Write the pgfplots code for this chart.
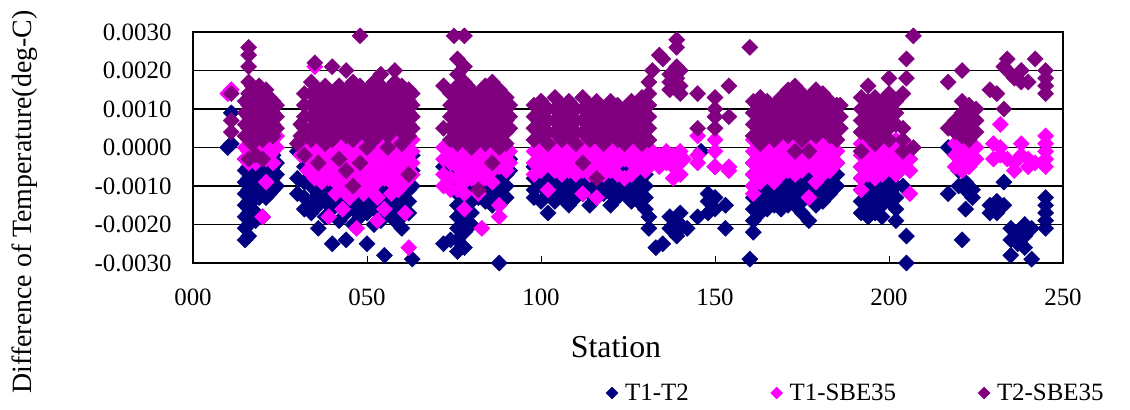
\documentclass[border=0pt]{standalone}
\usepackage{pgfplots}
\pgfplotsset{compat=1.18}
\usepackage{fontspec}
\setmainfont{Liberation Serif}
\definecolor{cnavy}{RGB}{0,0,128}
\definecolor{cmag}{RGB}{255,0,255}
\definecolor{cpur}{RGB}{128,0,128}
\begin{document}
\begin{tikzpicture}[x=1bp,y=1bp]
\path[use as bounding box] (0,0) rectangle (1130,409);
\begin{axis}[
  at={(193bp,146bp)}, anchor=south west,
  scale only axis, width=870bp, height=231bp,
  xmin=0, xmax=250, ymin=-0.003, ymax=0.003,
  clip=false,
  axis line style={black, line width=2.5bp},
  xtick={0,50,100,150,200,250}, xticklabels={000,050,100,150,200,250},
  ytick={-0.003,-0.002,-0.001,0,0.001,0.002,0.003},
  yticklabels={-0.0030,-0.0020,-0.0010,0.0000,0.0010,0.0020,0.0030},
  scaled y ticks=false,
  ymajorgrids, major grid style={black, line width=1.1bp},
  tick align=inside, tick pos=left, major tick length=7bp,
  xtick style={black, line width=1bp},
  ytick style={draw=none},
  ticklabel style={font=\fontsize{25}{30}\selectfont},
  yticklabel style={xshift=-18bp},
  xticklabel style={yshift=-22bp},
  legend columns=3,
  legend style={at={(0.4713,-0.5628)}, anchor=west, draw=none, fill=none,
    font=\fontsize{25}{30}\selectfont,
    /tikz/every odd column/.append style={column sep=5bp},
    /tikz/every even column/.append style={column sep=80bp}},
  legend image code/.code={\draw[mark repeat=2,mark phase=2,#1,mark size=4.2bp] plot coordinates {(0bp,0bp)(6bp,0bp)(12bp,0bp)};},
  every axis plot/.append style={only marks, mark=square*, mark size=5.7bp, mark options={rotate=45}},
]
% T1-T2
\addplot[color=cnavy] coordinates {
(10,0)(11,0.0009)(11,0.0001)
(15,-0.0003)(15,-0.0006)(15,-0.0009)(15,-0.0012)(15,-0.0015)(15,-0.0018)(15,-0.0021)(15,-0.0024)
(16,-0.0005)(16,-0.0008)(16,-0.0011)(16,-0.0014)(16,-0.0017)(16,-0.0020)(16,-0.0023)
(17,-0.0002)(17,-0.0005)(17,-0.0008)(17,-0.0011)(17,-0.0014)(17,-0.0016)
(18,-0.0004)(18,-0.0007)(18,-0.0010)(18,-0.0013)(18,-0.0017)(18,-0.0019)
(19,-0.0001)(19,-0.0004)(19,-0.0007)(19,-0.0010)(19,-0.0013)
(20,-0.0003)(20,-0.0006)(20,-0.0009)(20,-0.0012)(20,-0.0018)
(21,-0.0001)(21,-0.0004)(21,-0.0007)(21,-0.0010)(21,-0.0013)
(22,-0.0003)(22,-0.0006)(22,-0.0009)(22,-0.0012)
(23,-0.0002)(23,-0.0005)(23,-0.0008)(23,-0.0011)
(24,-0.0004)(24,-0.0007)(24,-0.0010)
(30,-0.0001)(30,-0.0008)(30,-0.0012)
(32,-0.0005)(32,-0.0009)(32,-0.0013)(32,-0.0016)
(34,-0.0004)(34,-0.0007)(34,-0.0010)(34,-0.0014)(34,-0.0017)
(36,-0.0003)(36,-0.0006)(36,-0.0009)(36,-0.0012)(36,-0.0015)(36,-0.0021)
(38,-0.0005)(38,-0.0008)(38,-0.0011)(38,-0.0014)(38,-0.0018)
(40,-0.0004)(40,-0.0007)(40,-0.0010)(40,-0.0013)(40,-0.0016)(40,-0.0025)
(42,-0.0003)(42,-0.0006)(42,-0.0009)(42,-0.0012)(42,-0.0015)(42,-0.0019)
(44,-0.0005)(44,-0.0008)(44,-0.0011)(44,-0.0014)(44,-0.0017)(44,-0.0024)
(46,-0.0004)(46,-0.0007)(46,-0.0010)(46,-0.0013)(46,-0.0016)(46,-0.0020)
(48,-0.0003)(48,-0.0006)(48,-0.0009)(48,-0.0012)(48,-0.0015)(48,-0.0018)
(50,-0.0005)(50,-0.0008)(50,-0.0011)(50,-0.0014)(50,-0.0017)(50,-0.0025)
(52,-0.0004)(52,-0.0007)(52,-0.0010)(52,-0.0013)(52,-0.0016)(52,-0.0020)
(54,-0.0003)(54,-0.0006)(54,-0.0009)(54,-0.0012)(54,-0.0015)(54,-0.0019)
(55,-0.0028)
(56,-0.0005)(56,-0.0008)(56,-0.0011)(56,-0.0014)(56,-0.0017)
(58,-0.0004)(58,-0.0007)(58,-0.0010)(58,-0.0013)(58,-0.0016)(58,-0.0019)
(60,-0.0003)(60,-0.0006)(60,-0.0009)(60,-0.0012)(60,-0.0015)(60,-0.0018)(60,-0.0021)
(62,-0.0005)(62,-0.0008)(62,-0.0011)(62,-0.0014)(62,-0.0017)
(63,-0.0002)(63,-0.0006)(63,-0.0010)(63,-0.0029)
(72,-0.0005)(72,-0.0025)
(74,-0.0006)(74,-0.0009)(74,-0.0024)
(76,-0.0006)(76,-0.0009)(76,-0.0012)(76,-0.0015)(76,-0.0018)(76,-0.0021)(76,-0.0024)(76,-0.0027)
(78,-0.0007)(78,-0.0010)(78,-0.0013)(78,-0.0016)(78,-0.0019)(78,-0.0022)(78,-0.0026)
(80,-0.0005)(80,-0.0008)(80,-0.0011)(80,-0.0014)(80,-0.0017)(80,-0.0020)
(82,-0.0004)(82,-0.0007)(82,-0.0010)(82,-0.0013)
(84,-0.0005)(84,-0.0008)(84,-0.0011)(84,-0.0014)
(86,-0.0004)(86,-0.0007)(86,-0.0010)(86,-0.0013)(86,-0.0015)
(88,-0.0005)(88,-0.0008)(88,-0.0011)(88,-0.0030)
(90,-0.0004)(90,-0.0007)(90,-0.0010)(90,-0.0013)
(91,-0.0003)(91,-0.0006)
(98,-0.0005)(98,-0.0008)(98,-0.0011)(98,-0.0013)
(100,-0.0004)(100,-0.0007)(100,-0.0010)(100,-0.0014)
(102,-0.0006)(102,-0.0009)(102,-0.0012)(102,-0.0017)
(104,-0.0005)(104,-0.0008)(104,-0.0011)(104,-0.0014)
(106,-0.0004)(106,-0.0007)(106,-0.0010)(106,-0.0013)
(108,-0.0006)(108,-0.0009)(108,-0.0012)(108,-0.0015)
(110,-0.0005)(110,-0.0008)(110,-0.0011)(110,-0.0013)
(112,-0.0004)(112,-0.0007)(112,-0.0010)(112,-0.0012)
(114,-0.0006)(114,-0.0009)(114,-0.0012)(114,-0.0015)
(116,-0.0005)(116,-0.0008)(116,-0.0011)(116,-0.0013)
(118,-0.0004)(118,-0.0007)(118,-0.0010)(118,-0.0012)
(120,-0.0003)(120,-0.0006)(120,-0.0009)(120,-0.0012)(120,-0.0015)
(122,-0.0005)(122,-0.0008)(122,-0.0011)(122,-0.0013)
(124,-0.0004)(124,-0.0007)(124,-0.0010)(124,-0.0012)
(126,-0.0003)(126,-0.0006)(126,-0.0009)(126,-0.0012)(126,-0.0014)
(128,-0.0005)(128,-0.0008)(128,-0.0011)(128,-0.0014)
(130,-0.0007)(130,-0.0010)(130,-0.0013)(130,-0.0016)
(131,-0.0018)(131,-0.0021)
(133,-0.0026)(135,-0.0025)
(137,-0.0018)(137,-0.0021)
(139,-0.0019)(139,-0.0022)(139,-0.0023)
(140,-0.0017)(140,-0.0020)
(142,-0.0021)
(145,-0.0018)(146,-0.0001)
(148,-0.0012)(148,-0.0014)(148,-0.0017)
(150,-0.0005)(150,-0.0013)(150,-0.0016)
(153,-0.0015)(153,-0.0021)
(160,-0.0029)
(161,-0.0004)(161,-0.0007)(161,-0.0010)(161,-0.0013)(161,-0.0016)(161,-0.0019)(161,-0.0022)
(163,-0.0005)(163,-0.0008)(163,-0.0011)(163,-0.0014)(163,-0.0017)
(165,-0.0004)(165,-0.0007)(165,-0.0010)(165,-0.0013)(165,-0.0016)
(167,-0.0006)(167,-0.0009)(167,-0.0012)(167,-0.0015)
(169,-0.0005)(169,-0.0008)(169,-0.0011)(169,-0.0014)(169,-0.0016)
(171,-0.0004)(171,-0.0007)(171,-0.0010)(171,-0.0013)(171,-0.0015)
(173,-0.0006)(173,-0.0009)(173,-0.0012)(173,-0.0015)
(175,-0.0005)(175,-0.0008)(175,-0.0011)(175,-0.0014)(175,-0.0017)
(177,-0.0004)(177,-0.0007)(177,-0.0010)(177,-0.0013)(177,-0.0019)
(179,-0.0006)(179,-0.0009)(179,-0.0012)(179,-0.0015)
(181,-0.0005)(181,-0.0008)(181,-0.0011)(181,-0.0014)
(183,-0.0003)(183,-0.0006)(183,-0.0009)(183,-0.0012)
(185,-0.0004)(185,-0.0007)(185,-0.0010)
(192,-0.0005)(192,-0.0008)(192,-0.0011)(192,-0.0014)(192,-0.0017)
(194,-0.0006)(194,-0.0009)(194,-0.0012)(194,-0.0015)(194,-0.0018)
(196,-0.0005)(196,-0.0008)(196,-0.0011)(196,-0.0014)(196,-0.0017)
(198,-0.0006)(198,-0.0009)(198,-0.0012)(198,-0.0015)(198,-0.0018)
(200,-0.0005)(200,-0.0008)(200,-0.0011)(200,-0.0014)
(202,-0.0007)(202,-0.0010)(202,-0.0013)(202,-0.0016)(202,-0.0019)
(204,-0.0010)(205,-0.0023)(205,-0.0030)
(217,0)(217,-0.0012)(221,-0.0024)
(220,-0.0006)(220,-0.0010)
(222,-0.0009)(222,-0.0011)(222,-0.0016)
(224,-0.0011)(224,-0.0013)
(229,-0.0015)(229,-0.0017)
(231,-0.0014)(231,-0.0017)
(233,-0.0009)(233,-0.0015)
(235,-0.0021)(235,-0.0024)(235,-0.0028)
(237,-0.0022)(237,-0.0025)
(239,-0.0020)(239,-0.0023)(239,-0.0026)
(241,-0.0021)(241,-0.0029)
(245,-0.0013)(245,-0.0015)(245,-0.0017)(245,-0.0019)(245,-0.0021)
};
% T1-SBE35
\addplot[color=cmag] coordinates {
(10,0.0014)(11,0.0015)
(15,0.0003)(15,0)(15,-0.0003)
(16,0.0005)(16,0.0002)(16,-0.0001)(16,-0.0004)
(17,0.0003)(17,0)(17,-0.0003)
(18,0.0005)(18,0.0002)(18,-0.0001)(18,-0.0004)
(19,0.0003)(19,0)(19,-0.0003)
(20,0.0004)(20,0.0001)(20,-0.0002)(20,-0.0018)
(21,0.0003)(21,0)(21,-0.0003)(21,-0.0009)
(22,0.0004)(22,0.0001)(22,-0.0002)
(23,0.0002)(23,-0.0001)(23,-0.0004)
(24,0.0003)(24,0)
(31,0.0002)(31,-0.0002)
(33,0.0003)(33,0)(33,-0.0003)(33,-0.0006)
(35,0.0021)(35,0.0004)(35,0.0001)(35,-0.0002)(35,-0.0005)(35,-0.0008)
(37,0.0003)(37,0)(37,-0.0003)(37,-0.0006)(37,-0.0009)
(39,0.0014)(39,0.0004)(39,0.0001)(39,-0.0002)(39,-0.0005)(39,-0.0008)(39,-0.0018)
(41,0.0003)(41,0)(41,-0.0003)(41,-0.0006)(41,-0.0009)(41,-0.0012)
(43,0.0004)(43,0.0001)(43,-0.0002)(43,-0.0005)(43,-0.0008)(43,-0.0011)(43,-0.0016)
(45,0.0003)(45,0)(45,-0.0003)(45,-0.0006)(45,-0.0009)(45,-0.0013)
(47,0.0004)(47,0.0001)(47,-0.0002)(47,-0.0005)(47,-0.0008)(47,-0.0011)(47,-0.0021)
(49,0.0003)(49,0)(49,-0.0003)(49,-0.0006)(49,-0.0009)(49,-0.0012)
(51,0.0004)(51,0.0001)(51,-0.0002)(51,-0.0005)(51,-0.0008)(51,-0.0011)
(53,0.0003)(53,0)(53,-0.0003)(53,-0.0006)(53,-0.0009)(53,-0.0013)(53,-0.0019)
(55,0.0004)(55,0.0001)(55,-0.0002)(55,-0.0005)(55,-0.0008)(55,-0.0016)
(57,0.0003)(57,0)(57,-0.0003)(57,-0.0006)(57,-0.0009)(57,-0.0012)
(59,0.0004)(59,0.0001)(59,-0.0002)(59,-0.0005)(59,-0.0008)(59,-0.0011)
(61,0.0003)(61,0)(61,-0.0003)(61,-0.0006)(61,-0.0009)(61,-0.0017)
(62,-0.0026)
(63,0.0002)(63,-0.0001)(63,-0.0004)(63,-0.0007)
(72,0)(72,-0.0003)(72,-0.0007)(72,-0.0010)
(74,-0.0001)(74,-0.0004)(74,-0.0008)(74,-0.0011)
(76,0.0001)(76,-0.0002)(76,-0.0005)(76,-0.0008)(76,-0.0011)
(78,0)(78,-0.0003)(78,-0.0006)(78,-0.0009)(78,-0.0012)(78,-0.0016)
(80,0.0001)(80,-0.0002)(80,-0.0005)(80,-0.0008)
(82,0)(82,-0.0003)(82,-0.0006)(82,-0.0009)(82,-0.0012)
(83,-0.0021)
(84,0.0001)(84,-0.0002)(84,-0.0005)(84,-0.0008)
(86,0)(86,-0.0003)(86,-0.0006)(86,-0.0009)
(88,0.0001)(88,-0.0002)(88,-0.0005)(88,-0.0015)(88,-0.0018)
(90,0)(90,-0.0003)(90,-0.0006)
(91,-0.0001)(91,-0.0004)
(98,0.0002)(98,-0.0001)(98,-0.0004)(98,-0.0007)
(100,0.0003)(100,0)(100,-0.0003)(100,-0.0006)
(102,0.0002)(102,-0.0001)(102,-0.0004)(102,-0.0011)
(104,0.0003)(104,0)(104,-0.0003)(104,-0.0006)
(106,0.0002)(106,-0.0001)(106,-0.0004)(106,-0.0007)
(108,0.0003)(108,0)(108,-0.0003)(108,-0.0006)
(110,0.0002)(110,-0.0001)(110,-0.0004)(110,-0.0007)
(112,0.0003)(112,0)(112,-0.0003)(112,-0.0006)(112,-0.0012)
(114,0.0002)(114,-0.0001)(114,-0.0004)(114,-0.0007)
(116,0.0003)(116,0)(116,-0.0003)(116,-0.0006)(116,-0.0013)
(118,0.0002)(118,-0.0001)(118,-0.0004)(118,-0.0007)
(120,0.0003)(120,0)(120,-0.0003)(120,-0.0006)
(122,0.0002)(122,-0.0001)(122,-0.0004)(122,-0.0007)
(124,0.0003)(124,0)(124,-0.0003)(124,-0.0008)
(126,0.0002)(126,-0.0001)(126,-0.0004)(126,-0.0007)
(128,0.0001)(128,-0.0002)(128,-0.0005)
(130,0)(130,-0.0003)(130,-0.0006)
(132,-0.0001)(132,-0.0004)
(134,-0.0002)(134,-0.0005)
(136,-0.0001)(136,-0.0004)
(138,-0.0002)(138,-0.0005)(138,-0.0008)
(140,-0.0001)(140,-0.0004)(140,-0.0007)
(141,-0.0003)
(145,0.0003)(145,-0.0002)(145,-0.0004)
(150,0.0002)(150,-0.0001)(150,-0.0005)
(154,-0.0005)(154,-0.0006)
(161,0.0002)(161,-0.0001)(161,-0.0004)(161,-0.0007)(161,-0.0010)(161,-0.0012)
(163,0.0003)(163,0)(163,-0.0003)(163,-0.0006)(163,-0.0009)
(165,0.0002)(165,-0.0001)(165,-0.0004)(165,-0.0007)
(167,0.0003)(167,0)(167,-0.0003)(167,-0.0006)(167,-0.0009)
(169,0.0002)(169,-0.0001)(169,-0.0004)(169,-0.0007)
(171,0.0003)(171,0)(171,-0.0003)(171,-0.0006)
(173,0.0002)(173,-0.0001)(173,-0.0004)(173,-0.0007)
(175,0.0003)(175,0)(175,-0.0003)(175,-0.0006)
(177,0.0002)(177,-0.0001)(177,-0.0004)(177,-0.0013)
(179,0.0003)(179,0)(179,-0.0003)(179,-0.0006)(179,-0.0009)
(181,0.0002)(181,-0.0001)(181,-0.0004)(181,-0.0007)
(183,0.0003)(183,0)(183,-0.0003)(183,-0.0006)
(185,0.0002)(185,-0.0001)(185,-0.0004)
(192,0.0001)(192,-0.0002)(192,-0.0005)(192,-0.0008)(192,-0.0011)
(194,0.0002)(194,-0.0001)(194,-0.0004)(194,-0.0007)
(196,0.0001)(196,-0.0002)(196,-0.0005)(196,-0.0008)
(198,0.0002)(198,-0.0001)(198,-0.0004)(198,-0.0007)
(200,0.0001)(200,-0.0002)(200,-0.0005)
(202,0.0002)(202,-0.0001)(202,-0.0004)(202,-0.0007)
(204,0.0001)(204,-0.0002)(204,-0.0005)
(206,0)(206,-0.0003)(206,-0.0006)(206,-0.0012)
(219,0.0001)(219,-0.0002)(219,-0.0005)
(221,0.0002)(221,-0.0001)(221,-0.0004)(221,-0.0006)
(223,0.0001)(223,-0.0002)(223,-0.0005)
(225,0)(225,-0.0003)
(230,0.0001)(230,-0.0003)
(232,0.0006)(232,0)(232,-0.0002)
(234,-0.0003)
(236,-0.0004)(236,-0.0006)
(238,-0.0002)(238,0.0001)
(240,-0.0003)(240,-0.0005)
(242,-0.0004)
(245,0.0003)(245,0.0001)(245,-0.0001)(245,-0.0003)(245,-0.0005)
};
% T2-SBE35
\addplot[color=cpur] coordinates {
(11,0.0014)(11,0.0007)(11,0.0004)
(15,0.0012)(15,0.0009)(15,0.0006)(15,0.0003)
(16,0.0026)(16,0.0024)(16,0.0021)(16,0.0017)(16,0.0014)(16,0.0011)(16,0.0008)(16,0.0005)(16,-0.0003)
(17,0.0016)(17,0.0013)(17,0.0010)(17,0.0007)(17,0.0004)(17,0.0001)
(18,0.0015)(18,0.0012)(18,0.0009)(18,0.0006)(18,0.0003)(18,-0.0002)
(19,0.0016)(19,0.0013)(19,0.0010)(19,0.0007)(19,0.0004)
(20,0.0014)(20,0.0011)(20,0.0008)(20,0.0005)(20,0.0002)(20,-0.0003)
(21,0.0015)(21,0.0012)(21,0.0009)(21,0.0006)(21,0.0003)
(22,0.0013)(22,0.0010)(22,0.0007)(22,0.0004)
(23,0.0012)(23,0.0009)(23,0.0006)(23,0.0003)
(24,0.0011)(24,0.0008)(24,0.0005)
(30,0.0001)
(31,0.0006)(31,0.0003)
(32,0.0014)(32,0.0011)(32,0.0008)(32,0.0005)(32,-0.0002)
(34,0.0017)(34,0.0014)(34,0.0011)(34,0.0008)(34,0.0005)(34,0.0002)
(35,0.0022)
(36,0.0015)(36,0.0012)(36,0.0009)(36,0.0006)(36,0.0003)(36,-0.0004)
(38,0.0016)(38,0.0013)(38,0.0010)(38,0.0007)(38,0.0004)(38,0.0001)
(40,0.0021)(40,0.0014)(40,0.0011)(40,0.0008)(40,0.0005)(40,0.0002)
(42,0.0016)(42,0.0013)(42,0.0010)(42,0.0007)(42,0.0004)(42,-0.0003)
(44,0.0020)(44,0.0015)(44,0.0012)(44,0.0009)(44,0.0006)(44,0.0003)(44,-0.0006)
(46,0.0017)(46,0.0014)(46,0.0011)(46,0.0008)(46,0.0005)(46,0.0002)(46,-0.0010)
(48,0.0029)(48,0.0016)(48,0.0013)(48,0.0010)(48,0.0007)(48,0.0004)(48,-0.0004)
(50,0.0015)(50,0.0012)(50,0.0009)(50,0.0006)(50,0.0003)(50,0)
(52,0.0017)(52,0.0014)(52,0.0011)(52,0.0008)(52,0.0005)(52,0.0002)
(54,0.0019)(54,0.0016)(54,0.0013)(54,0.0010)(54,0.0007)(54,0.0004)
(56,0.0015)(56,0.0012)(56,0.0009)(56,0.0006)(56,0.0003)(56,0)
(58,0.0020)(58,0.0017)(58,0.0014)(58,0.0011)(58,0.0008)(58,0.0005)
(60,0.0016)(60,0.0013)(60,0.0010)(60,0.0007)(60,0.0004)(60,0.0001)
(62,0.0015)(62,0.0012)(62,0.0009)(62,0.0006)(62,0.0003)(62,-0.0007)
(63,0.0014)(63,0.0011)(63,0.0008)(63,0.0005)
(72,0.0016)(72,0.0005)
(74,0.0014)(74,0.0011)(74,0.0008)(74,0.0005)(74,0.0002)
(75,0.0029)
(76,0.0023)(76,0.0019)(76,0.0016)(76,0.0013)(76,0.0010)(76,0.0007)(76,0.0004)(76,0.0001)
(78,0.0029)(78,0.0021)(78,0.0017)(78,0.0014)(78,0.0011)(78,0.0008)(78,0.0005)(78,0.0002)
(80,0.0015)(80,0.0012)(80,0.0009)(80,0.0006)(80,0.0003)(80,0)
(82,0.0014)(82,0.0011)(82,0.0008)(82,0.0005)(82,0.0002)(82,-0.0011)
(84,0.0016)(84,0.0013)(84,0.0010)(84,0.0007)(84,0.0004)(84,0.0001)
(86,0.0017)(86,0.0014)(86,0.0011)(86,0.0008)(86,0.0005)(86,0.0002)(86,-0.0004)
(88,0.0015)(88,0.0012)(88,0.0009)(88,0.0006)(88,0.0003)(88,0)
(90,0.0013)(90,0.0010)(90,0.0007)(90,0.0004)(90,0.0001)
(91,0.0011)(91,0.0008)(91,0.0005)
(98,0.0011)(98,0.0008)(98,0.0005)(98,0.0002)
(100,0.0012)(100,0.0009)(100,0.0006)(100,0.0003)
(102,0.0010)(102,0.0007)(102,0.0004)(102,0.0001)
(104,0.0013)(104,0.0010)(104,0.0007)(104,0.0004)
(106,0.0011)(106,0.0008)(106,0.0005)(106,0.0002)
(108,0.0012)(108,0.0009)(108,0.0006)(108,0.0003)
(110,0.0010)(110,0.0007)(110,0.0004)(110,0.0001)
(112,0.0013)(112,0.0010)(112,0.0007)(112,0.0004)(112,-0.0004)
(114,0.0011)(114,0.0008)(114,0.0005)(114,0.0002)
(116,0.0012)(116,0.0009)(116,0.0006)(116,0.0003)(116,-0.0008)
(118,0.0010)(118,0.0007)(118,0.0004)(118,0.0001)
(120,0.0012)(120,0.0009)(120,0.0006)(120,0.0003)
(122,0.0011)(122,0.0008)(122,0.0005)(122,0.0002)
(124,0.0010)(124,0.0007)(124,0.0004)(124,0.0001)
(126,0.0012)(126,0.0009)(126,0.0006)(126,0.0003)
(128,0.0011)(128,0.0008)(128,0.0005)(128,0.0002)
(129,0.0013)(129,0.0010)(129,0.0007)(129,0.0004)(129,0.0001)
(131,0.0017)(131,0.0014)(131,0.0011)(131,0.0008)(131,0.0005)(131,0.0002)
(132,0.0020)
(134,0.0024)(135,0.0023)
(137,0.0019)(137,0.0017)(137,0.0015)
(139,0.0028)(139,0.0026)(139,0.0021)(139,0.0018)(139,0.0015)
(140,0.0020)(140,0.0016)(140,0.0014)
(145,0.0014)(145,0.0005)
(150,0.0013)(150,0.0010)(150,0.0008)(150,0.0005)
(154,0.0016)(154,0.0008)
(160,0.0026)
(161,0.0012)(161,0.0009)(161,0.0006)(161,0.0003)
(163,0.0013)(163,0.0010)(163,0.0007)(163,0.0004)(163,0.0001)
(165,0.0012)(165,0.0009)(165,0.0006)(165,0.0003)
(167,0.0011)(167,0.0008)(167,0.0005)(167,0.0002)
(169,0.0013)(169,0.0010)(169,0.0007)(169,0.0004)
(171,0.0015)(171,0.0012)(171,0.0009)(171,0.0006)(171,0.0003)
(173,0.0016)(173,0.0013)(173,0.0010)(173,0.0007)(173,0.0004)(173,-0.0001)
(175,0.0014)(175,0.0011)(175,0.0008)(175,0.0005)(175,0.0002)
(177,0.0013)(177,0.0010)(177,0.0007)(177,0.0004)(177,-0.0001)
(179,0.0015)(179,0.0012)(179,0.0009)(179,0.0006)(179,0.0003)
(181,0.0014)(181,0.0011)(181,0.0008)(181,0.0005)
(183,0.0012)(183,0.0009)(183,0.0006)(183,0.0003)
(185,0.0011)(185,0.0008)(185,0.0005)(185,0.0002)
(186,0.0011)(186,0.0008)(186,0.0005)
(192,0.0013)(192,0.0010)(192,0.0007)(192,0.0004)(192,-0.0001)
(194,0.0016)(194,0.0012)(194,0.0009)(194,0.0006)(194,0.0003)
(196,0.0013)(196,0.0010)(196,0.0007)(196,0.0004)(196,0.0001)
(198,0.0012)(198,0.0009)(198,0.0006)(198,0.0003)
(200,0.0018)(200,0.0014)(200,0.0011)(200,0.0008)(200,0.0005)(200,0.0002)
(202,0.0012)(202,0.0009)(202,0.0006)
(204,0.0014)(204,0.0005)(204,0.0002)(204,-0.0001)
(205,0.0023)(205,0.0018)
(207,0.0029)(207,0)
(217,0.0017)(217,0.0005)
(219,0.0007)(219,0.0004)
(221,0.0020)(221,0.0012)(221,0.0009)(221,0.0006)(221,0.0003)
(223,0.0011)(223,0.0008)(223,0.0005)(223,0.0002)
(225,0.0010)(225,0.0007)(225,0.0004)
(229,0.0015)(231,0.0014)
(233,0.0021)(233,0.0010)
(234,0.0023)(234,0.0020)
(236,0.0018)
(238,0.0020)(238,0.0017)
(240,0.0017)
(242,0.0023)
(245,0.0020)(245,0.0018)(245,0.0016)(245,0.0014)
};
\legend{T1-T2,T1-SBE35,T2-SBE35}
\end{axis}
\node[rotate=90, font=\fontsize{28}{33}\selectfont] at (25,207) {Difference of Temperature(deg-C)};
\node[font=\fontsize{32}{38}\selectfont] at (616,62) {Station};
\end{tikzpicture}
\end{document}
